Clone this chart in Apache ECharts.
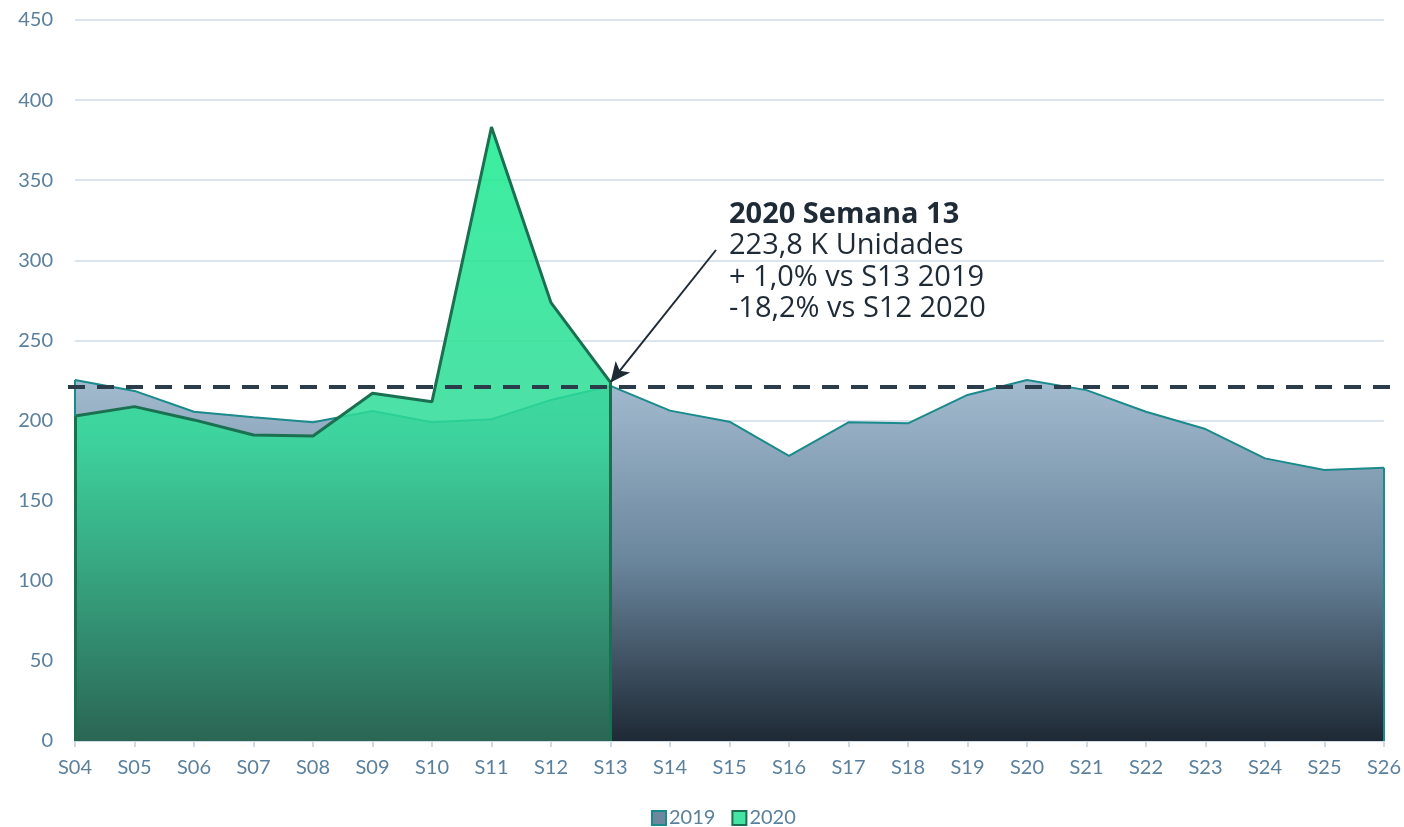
<!DOCTYPE html>
<html>
<head>
<meta charset="utf-8">
<script src="https://cdn.jsdelivr.net/npm/echarts@6/dist/echarts.min.js"></script>
<style>
  html, body { margin: 0; padding: 0; background: #fff; }
  #chart { width: 1404px; height: 827px; }
</style>
</head>
<body>
<div id="chart"></div>
<script>
var weeks = ['S04', 'S05', 'S06', 'S07', 'S08', 'S09', 'S10', 'S11', 'S12', 'S13', 'S14', 'S15', 'S16',
  'S17', 'S18', 'S19', 'S20', 'S21', 'S22', 'S23', 'S24', 'S25', 'S26']
var units2019 = [225.3, 218.5, 205.5, 202, 199, 206, 199, 200.8, 212.8, 221.6, 206.2, 199.3, 178,
  198.9, 198.3, 216, 225.3, 219, 205.5, 194.7, 176.4, 169.1, 170.6]
var units2020 = [202.9, 208.7, 200.4, 191, 190.4, 217, 211.8, 383.2, 273.6, 223.8]
var refLevel = 221
var noteTitle = '2020 Semana 13'
var noteLines = ['223,8 K Unidades', '+ 1,0% vs S13 2019', '-18,2% vs S12 2020']

var chart = echarts.init(document.getElementById('chart'))
var labelColor = '#5a809e'
var lastIdx = units2020.length - 1

// 2020 only runs up to S13
var data2020 = weeks.map(function (w, i) {
  return i < units2020.length ? units2020[i] : null
})

// grid box in px, used to stretch the dashed reference line a bit past the plot
var gridTop = 20
var gridBottom = 86
var plotH = 827 - gridTop - gridBottom
var refY = gridTop + (450 - refLevel) / 450 * plotH

chart.setOption({
  animation: false,
  textStyle: { fontFamily: 'Lato' },
  grid: { left: 75, right: 18, top: gridTop, bottom: gridBottom },
  legend: {
    top: 803,
    left: 646,
    icon: 'rect',
    itemWidth: 14,
    itemHeight: 14,
    itemGap: 16,
    textStyle: { color: labelColor, fontSize: 20, fontFamily: 'Lato', padding: [0, 0, 0, -2] },
    data: [
      { name: '2019', itemStyle: { color: '#6d889e', borderColor: '#1a8a8c', borderWidth: 2 } },
      { name: '2020', itemStyle: { color: '#45e4a3', borderColor: '#1a7050', borderWidth: 2 } }
    ]
  },
  xAxis: {
    type: 'category',
    data: weeks,
    boundaryGap: false,
    axisLine: { lineStyle: { color: '#cddae4', width: 2 } },
    axisTick: { show: true, length: 6, lineStyle: { color: '#cddae4', width: 2 } },
    axisLabel: { color: labelColor, fontSize: 20, margin: 17 }
  },
  yAxis: {
    type: 'value',
    min: 0,
    max: 450,
    interval: 50,
    axisLine: { show: false },
    axisTick: { show: false },
    axisLabel: { color: labelColor, fontSize: 20, margin: 22 },
    splitLine: { lineStyle: { color: '#dbe4ec', width: 2 } }
  },
  series: [
    {
      name: '2019',
      type: 'line',
      data: units2019,
      symbol: 'none',
      lineStyle: { color: '#1a8a8c', width: 2 },
      itemStyle: { color: '#6d889e' },
      areaStyle: {
        opacity: 1,
        color: new echarts.graphic.LinearGradient(0, 0, 0, 1, [
          { offset: 0, color: '#a3bbcf' },
          { offset: 0.5, color: '#6a869d' },
          { offset: 1, color: '#1e2935' }
        ])
      },
      markLine: {
        silent: true,
        symbol: 'none',
        label: { show: false },
        lineStyle: { color: '#1a8a8c', width: 2, type: 'solid' },
        data: [
          [{ coord: [0, 0] }, { coord: [0, units2019[0]] }],
          [{ coord: [weeks.length - 1, 0] }, { coord: [weeks.length - 1, units2019[weeks.length - 1]] }]
        ]
      },
      z: 2
    },
    {
      name: '2020',
      type: 'line',
      data: data2020,
      symbol: 'none',
      lineStyle: { color: '#1a7050', width: 3 },
      itemStyle: { color: '#45e4a3' },
      areaStyle: {
        opacity: 0.85,
        color: new echarts.graphic.LinearGradient(0, 0, 0, 1, [
          { offset: 0, color: '#18ec8e' },
          { offset: 0.5, color: '#2fdb98' },
          { offset: 1, color: '#2d7059' }
        ])
      },
      markLine: {
        silent: true,
        symbol: 'none',
        label: { show: false },
        lineStyle: { color: '#1a7050', width: 3, type: 'solid' },
        data: [
          [{ coord: [0, 0] }, { coord: [0, units2020[0]] }],
          [{ coord: [lastIdx, 0] }, { coord: [lastIdx, units2020[lastIdx]] }]
        ]
      },
      z: 3
    },
    {
      name: 'ref',
      type: 'line',
      data: [],
      markLine: {
        silent: true,
        symbol: 'none',
        label: { show: false },
        lineStyle: { color: '#2b3d4b', width: 4, type: [17, 12] },
        data: [[{ x: 68, y: refY }, { x: 1396, y: refY }]]
      },
      z: 5
    },
    {
      name: 'arrow',
      type: 'line',
      data: [],
      markLine: {
        silent: true,
        symbol: ['none', 'arrow'],
        symbolSize: [14, 20],
        label: { show: false },
        lineStyle: { color: '#1e2a36', width: 2, type: 'solid' },
        data: [[{ x: 716, y: 250 }, { coord: [lastIdx, units2020[lastIdx]] }]]
      },
      z: 6
    }
  ],
  graphic: [
    {
      type: 'text',
      left: 729,
      top: 200,
      style: {
        text: noteTitle,
        fill: '#1e2a36',
        font: 'bold 29px "Open Sans"'
      }
    },
    {
      type: 'text',
      left: 729,
      top: 230,
      style: {
        text: noteLines.join('\n'),
        fill: '#1e2a36',
        font: '29px "Open Sans"',
        lineHeight: 31.5
      }
    }
  ]
})
</script>
</body>
</html>
